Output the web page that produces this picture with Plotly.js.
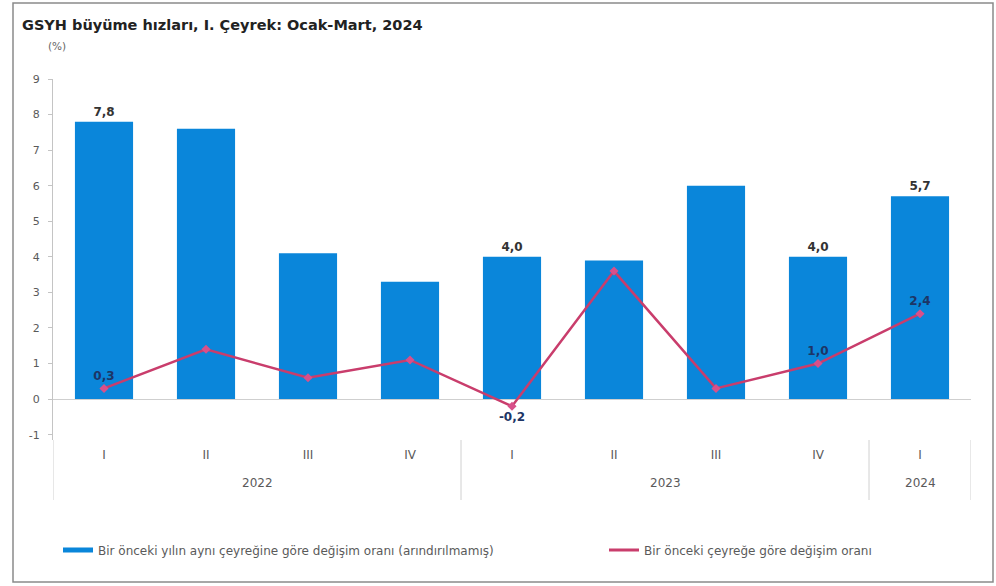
<!DOCTYPE html>
<html>
<head>
<meta charset="utf-8">
<script src="https://cdn.plot.ly/plotly-3.0.1.min.js"></script>
<style>
html,body{margin:0;padding:0;background:#fff;}
#chart{width:996px;height:586px;}
</style>
</head>
<body>
<div id="chart"></div>
<script>
// Data
const years = ['2022','2022','2022','2022','2023','2023','2023','2023','2024'];
const quarters = ['I','II','III','IV','I','II','III','IV','I'];
const annualGrowth = [7.8, 7.6, 4.1, 3.3, 4.0, 3.9, 6.0, 4.0, 5.7];
const quarterlyGrowth = [0.3, 1.4, 0.6, 1.1, -0.2, 3.6, 0.3, 1.0, 2.4];
const annualShown = [true, false, false, false, true, false, false, true, true];
const quarterlyShown = [true, false, false, false, true, false, false, true, true];
const seriesNames = [
  'Bir önceki yılın aynı çeyreğine göre değişim oranı (arındırılmamış)',
  'Bir önceki çeyreğe göre değişim oranı'
];
const titleText = 'GSYH büyüme hızları, I. Çeyrek: Ocak-Mart, 2024';
const unitText = '(%)';
const yTicks = [-1,0,1,2,3,4,5,6,7,8,9];

const fmt = v => v.toFixed(1).replace('.', ',');
const ids = years.map((y,i) => y + ' ' + quarters[i]);
const barText = annualGrowth.map((v,i) => annualShown[i] ? fmt(v) : '');
const lineText = quarterlyGrowth.map((v,i) => quarterlyShown[i] ? fmt(v) : '');
const linePos = quarterlyGrowth.map(v => v < 0 ? 'bottom center' : 'top center');

// year groups
const groups = [];
years.forEach((y,i) => {
  const g = groups.find(o => o.year === y);
  if (g) g.last = i; else groups.push({year: y, first: i, last: i});
});

const BLUE = '#0a86da';
const RED = '#c93d6c';
const FONT = 'DejaVu Sans, Verdana, sans-serif';
const GREY = '#5a5a5a';

const L = 53, R = 25, T = 79, B = 146;
const W = 996, H = 586;
const pw = W - L - R, ph = H - T - B;
const px = x => (x - L) / pw;
const py = y => (H - B - y) / ph;

const traces = [
  {
    type: 'bar',
    x: ids,
    y: annualGrowth,
    marker: {color: BLUE},
    width: 0.57,
    text: barText,
    textposition: 'outside',
    cliponaxis: false,
    textfont: {family: FONT, size: 12, color: '#333', weight: 'bold'},
    showlegend: false,
    hoverinfo: 'y'
  },
  {
    type: 'scatter',
    mode: 'lines+markers+text',
    x: ids,
    y: quarterlyGrowth,
    line: {color: RED, width: 2.5},
    marker: {symbol: 'diamond', size: 7, color: '#d8508a'},
    text: lineText,
    textposition: linePos,
    textfont: {family: FONT, size: 12, color: '#1d3566', weight: 'bold'},
    cliponaxis: false,
    showlegend: false
  },
  {
    type: 'scatter', mode: 'lines', x: [null], y: [null],
    name: seriesNames[0], line: {color: BLUE, width: 5}, showlegend: true,
    legend: 'legend'
  },
  {
    type: 'scatter', mode: 'lines', x: [null], y: [null],
    name: seriesNames[1], line: {color: RED, width: 3}, showlegend: true,
    legend: 'legend2'
  }
];

const annotations = [
  {
    text: unitText, xref: 'paper', yref: 'paper',
    x: px(57), y: py(46), xanchor: 'center', yanchor: 'middle',
    showarrow: false, font: {family: FONT, size: 10.5, color: '#666'}
  }
];
groups.forEach(g => {
  annotations.push({
    text: g.year, xref: 'x', yref: 'paper',
    x: (g.first + g.last) / 2, y: py(483), xanchor: 'center', yanchor: 'middle',
    showarrow: false, font: {family: FONT, size: 12, color: GREY}
  });
});

const shapes = [
  {
    type: 'rect', xref: 'paper', yref: 'paper',
    x0: px(13), x1: px(993), y0: py(3), y1: py(582),
    line: {color: '#8a8a8a', width: 1.5}, layer: 'below'
  }
];
const edges = [];
groups.forEach((g, k) => {
  if (k === 0) edges.push(g.first - 0.5);
  edges.push(g.last + 0.5);
});
edges.forEach(e => {
  shapes.push({
    type: 'line', xref: 'x', yref: 'paper',
    x0: e, x1: e, y0: py(440), y1: py(500),
    line: {color: '#d0d0d0', width: 1}
  });
});

const layout = {
  width: W, height: H,
  margin: {l: L, r: R, t: T, b: B},
  paper_bgcolor: '#fff', plot_bgcolor: '#fff',
  separators: ',.',
  font: {family: FONT, color: GREY, size: 11},
  title: {
    text: titleText,
    x: 22 / W, xanchor: 'left', xref: 'container',
    y: 1 - 25 / H, yanchor: 'middle', yref: 'container',
    font: {family: FONT, size: 14.5, color: '#222', weight: 'bold'}
  },
  xaxis: {
    type: 'category',
    tickvals: ids,
    ticktext: quarters,
    range: [-0.5, ids.length - 0.5],
    showline: false,
    showgrid: false,
    zeroline: false,
    ticks: '',
    ticklabelstandoff: 6,
    tickfont: {family: FONT, size: 12, color: GREY}
  },
  yaxis: {
    range: [-1.15, 9],
    tickvals: yTicks,
    ticktext: yTicks.map(String),
    showgrid: false,
    zeroline: true,
    zerolinecolor: '#cfcfcf',
    zerolinewidth: 1,
    showline: true,
    linecolor: '#c4c4c4',
    linewidth: 1,
    ticks: 'outside',
    ticklen: 4,
    tickcolor: '#c4c4c4',
    tickfont: {family: FONT, size: 11, color: GREY},
    ticklabelstandoff: 6
  },
  annotations: annotations,
  shapes: shapes,
  legend: {
    orientation: 'h',
    x: px(58), y: py(550), xanchor: 'left', yanchor: 'middle',
    font: {family: FONT, size: 12, color: GREY},
    itemwidth: 30,
    bgcolor: 'rgba(0,0,0,0)'
  },
  legend2: {
    orientation: 'h',
    x: px(604), y: py(550), xanchor: 'left', yanchor: 'middle',
    font: {family: FONT, size: 12, color: GREY},
    itemwidth: 30,
    bgcolor: 'rgba(0,0,0,0)'
  },
  bargap: 0.43
};

Plotly.newPlot('chart', traces, layout, {displayModeBar: false, staticPlot: true});
</script>
</body>
</html>
